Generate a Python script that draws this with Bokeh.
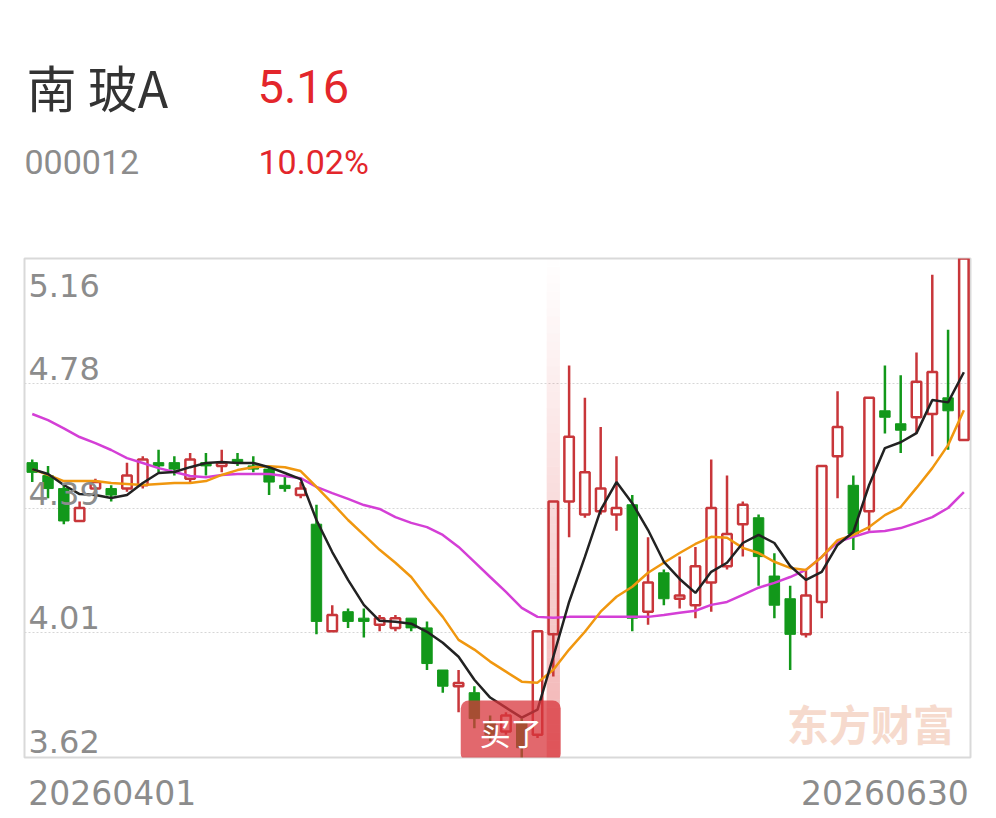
import numpy as np
from bokeh.plotting import figure
from bokeh.layouts import column
from bokeh.models import Range1d, FixedTicker, Label, LabelSet, Grid, ColumnDataSource
from bokeh.core.properties import value
from bokeh.embed import file_html
from bokeh.resources import INLINE

# ---------------- data ----------------
stock_name = "南 玻A"
stock_code = "000012"
last_price = "5.16"
pct_change = "10.02%"
dates = ["20260401", "20260630"]
y_tick_labels = ["5.16", "4.78", "4.39", "4.01", "3.62"]
y_min, y_max = 3.62, 5.16

opens = [4.53, 4.49, 4.45, 4.35, 4.45, 4.45, 4.45, 4.46, 4.53, 4.53,
         4.48, 4.53, 4.52, 4.54, 4.52, 4.51, 4.46, 4.43, 4.34, 4.01,
         4.07, 4.05, 4.03, 4.02, 4.05, 4.02, 3.89, 3.84, 3.82, 3.73,
         3.70, 3.73, 3.69, 4.00, 4.41, 4.37, 4.38, 4.37, 4.40, 4.07,
         4.19, 4.11, 4.09, 4.16, 4.21, 4.34, 4.36, 4.18, 4.11, 4.00,
         4.10, 4.55, 4.46, 4.38, 4.69, 4.65, 4.67, 4.68, 4.73, 4.60]
highs = [4.54, 4.52, 4.46, 4.41, 4.48, 4.46, 4.53, 4.55, 4.57, 4.55,
         4.56, 4.56, 4.57, 4.56, 4.55, 4.52, 4.49, 4.47, 4.40, 4.09,
         4.08, 4.08, 4.06, 4.06, 4.05, 4.04, 3.89, 3.89, 3.84, 3.75,
         3.76, 3.74, 4.01, 4.41, 4.83, 4.73, 4.64, 4.55, 4.43, 4.30,
         4.20, 4.24, 4.27, 4.54, 4.49, 4.41, 4.37, 4.25, 4.15, 4.20,
         4.52, 4.75, 4.49, 4.73, 4.83, 4.80, 4.87, 5.11, 4.94, 5.16]
lows = [4.47, 4.42, 4.34, 4.35, 4.42, 4.41, 4.44, 4.45, 4.50, 4.49,
        4.47, 4.49, 4.50, 4.52, 4.50, 4.43, 4.44, 4.42, 4.00, 4.01,
        4.02, 3.99, 4.01, 4.01, 4.01, 3.89, 3.82, 3.76, 3.71, 3.67,
        3.69, 3.62, 3.68, 3.87, 4.30, 4.36, 4.37, 4.32, 4.01, 4.03,
        4.09, 4.08, 4.05, 4.07, 4.20, 4.24, 4.15, 4.05, 3.89, 3.99,
        4.05, 4.42, 4.26, 4.32, 4.62, 4.56, 4.62, 4.55, 4.57, 4.60]
closes = [4.50, 4.45, 4.35, 4.39, 4.47, 4.43, 4.49, 4.54, 4.52, 4.51,
          4.54, 4.52, 4.53, 4.53, 4.51, 4.47, 4.45, 4.45, 4.04, 4.06,
          4.04, 4.04, 4.05, 4.05, 4.02, 3.91, 3.84, 3.85, 3.74, 3.69,
          3.75, 3.65, 4.01, 4.41, 4.61, 4.50, 4.45, 4.39, 4.05, 4.16,
          4.11, 4.12, 4.21, 4.39, 4.31, 4.40, 4.24, 4.09, 4.00, 4.12,
          4.52, 4.64, 4.31, 4.73, 4.67, 4.63, 4.78, 4.81, 4.69, 5.16]

ma5 = [4.510, 4.495, 4.461, 4.433, 4.430, 4.421, 4.430, 4.467, 4.498, 4.501,
       4.516, 4.529, 4.532, 4.529, 4.529, 4.516, 4.498, 4.479, 4.353, 4.254,
       4.168, 4.091, 4.042, 4.039, 4.033, 4.008, 3.974, 3.931, 3.860, 3.805,
       3.774, 3.743, 3.768, 3.931, 4.100, 4.239, 4.384, 4.470, 4.405, 4.322,
       4.224, 4.171, 4.128, 4.193, 4.221, 4.282, 4.307, 4.282, 4.211, 4.168,
       4.193, 4.276, 4.316, 4.461, 4.575, 4.593, 4.621, 4.723, 4.716, 4.809]
ma10 = [4.510, 4.492, 4.473, 4.473, 4.473, 4.467, 4.464, 4.461, 4.464, 4.467,
        4.467, 4.473, 4.492, 4.507, 4.516, 4.519, 4.516, 4.504, 4.455, 4.405,
        4.353, 4.307, 4.261, 4.221, 4.177, 4.113, 4.054, 3.983, 3.953, 3.916,
        3.885, 3.854, 3.851, 3.891, 3.953, 4.008, 4.070, 4.116, 4.147, 4.190,
        4.221, 4.251, 4.279, 4.301, 4.298, 4.267, 4.251, 4.224, 4.205, 4.199,
        4.239, 4.291, 4.307, 4.331, 4.368, 4.393, 4.452, 4.513, 4.584, 4.692]
ma20 = [4.680, 4.661, 4.636, 4.609, 4.590, 4.569, 4.544, 4.529, 4.513, 4.501,
        4.489, 4.485, 4.492, 4.495, 4.495, 4.495, 4.489, 4.482, 4.455, 4.436,
        4.418, 4.399, 4.387, 4.362, 4.344, 4.331, 4.307, 4.270, 4.224, 4.177,
        4.131, 4.082, 4.054, 4.051, 4.054, 4.054, 4.054, 4.054, 4.054, 4.054,
        4.060, 4.067, 4.073, 4.091, 4.100, 4.122, 4.144, 4.159, 4.177, 4.199,
        4.239, 4.285, 4.301, 4.316, 4.319, 4.328, 4.344, 4.362, 4.390, 4.439]

highlight_idx = 33
buy_idx = 31
buy_text = "买了"
watermark = "东方财富"

# ---------------- styling ----------------
RED = "#c8363a"
GREEN = "#12981a"
HDR_RED = "#e3262b"
GRAY = "#8c8c8c"
W = 990
FRAME_L, FRAME_R = 24, 20
FRAME_H = 499
HDR_H = 250
MB_BOTTOM = 5
FT_H = 54

n = len(closes)
idx = np.arange(n)
o = np.array(opens); h = np.array(highs); l = np.array(lows); c = np.array(closes)
up = c >= o
body_top = np.maximum(o, c)
body_bot = np.minimum(o, c)
pp = (y_max - y_min) / FRAME_H  # price per pixel

# ---------------- header (pixel coordinates) ----------------
hdr = figure(width=W, height=HDR_H, x_range=Range1d(FRAME_L, W - FRAME_R),
             y_range=Range1d(HDR_H, 0),
             x_axis_location=None, y_axis_location=None, toolbar_location=None,
             output_backend="svg", min_border_left=FRAME_L, min_border_right=FRAME_R,
             min_border_top=0, min_border_bottom=0)
hdr.outline_line_color = None
hdr.grid.visible = False
hdr.text(x=[26], y=[85], text=[stock_name], text_font=value("Noto Sans CJK SC"),
         text_font_size=value("50px"), text_color="#333333", text_baseline="middle")
hdr.text(x=[257], y=[86], text=[last_price], text_font=value("Roboto"),
         text_font_size=value("47px"), text_color=HDR_RED, text_baseline="middle")
hdr.text(x=[24], y=[161], text=[stock_code], text_font=value("Roboto"),
         text_font_size=value("34px"), text_color=GRAY, text_baseline="middle")
hdr.text(x=[258], y=[161], text=[pct_change], text_font=value("Roboto"),
         text_font_size=value("34px"), text_color=HDR_RED, text_baseline="middle")

# ---------------- main chart ----------------
x_start, x_end = -0.49, n - 1 + 0.42
p = figure(width=W, height=FRAME_H + 8 + MB_BOTTOM, x_range=Range1d(x_start, x_end),
           y_range=Range1d(y_min, y_max), x_axis_location=None, y_axis_location=None,
           toolbar_location=None, output_backend="svg",
           min_border_left=FRAME_L, min_border_right=FRAME_R,
           min_border_top=8, min_border_bottom=MB_BOTTOM)
p.grid.visible = False
p.outline_line_color = "#d9d9d9"
p.outline_line_width = 2
p.background_fill_color = "white"
p.border_fill_color = "white"
y_ticks = np.linspace(y_max, y_min, len(y_tick_labels))
p.add_layout(Grid(dimension=1, ticker=FixedTicker(ticks=list(y_ticks[1:-1])),
                  grid_line_color="#d6d6d6", grid_line_dash="2 2", grid_line_width=1))

# highlight band (gradient)
nb = 60
fr = np.arange(nb) / nb
band = ColumnDataSource(dict(
    left=np.full(nb, highlight_idx - 0.42), right=np.full(nb, highlight_idx + 0.42),
    bottom=y_min + (y_max - y_min) * fr, top=y_min + (y_max - y_min) * (fr + 1.0 / nb),
    alpha=0.42 * (1 - fr) ** 1.1))
p.quad(left="left", right="right", bottom="bottom", top="top", source=band,
       fill_color="#e04848", fill_alpha="alpha", line_color=None)

# wicks
colors = np.where(up, RED, GREEN)
p.segment(x0=idx, y0=body_top, x1=idx, y1=h, line_color=colors, line_width=2.5)
p.segment(x0=idx, y0=l, x1=idx, y1=body_bot, line_color=colors, line_width=2.5)
# bodies
gi = idx[~up]
p.vbar(x=gi, top=body_top[~up], bottom=body_bot[~up], width=0.66,
       fill_color=GREEN, line_color=GREEN, line_width=1)
ri = idx[up]
p.vbar(x=ri, top=body_top[up], bottom=body_bot[up], width=0.6,
       fill_color=None, line_color=RED, line_width=2.5)

# moving averages
p.line(idx, ma20, line_color="#d43fd6", line_width=2.5)
p.line(idx, ma10, line_color="#f0970f", line_width=2.5)
p.line(idx, ma5, line_color="#222222", line_width=2.5)

# y labels (centred above each grid line; the top one below the frame edge)
ly = [y_ticks[0] - 27 * pp] + list(y_ticks[1:-1] + 15 * pp) + [y_ticks[-1] + 16 * pp]
ysrc = ColumnDataSource(dict(x=[x_start] * len(y_tick_labels), y=ly, text=y_tick_labels))
p.add_layout(LabelSet(x="x", y="y", text="text", source=ysrc, x_offset=4,
                      text_font=value("DejaVu Sans"), text_font_size=value("32px"),
                      text_color=GRAY, text_baseline="middle", text_align="left"))

# watermark
p.add_layout(Label(x=53.1, y=y_min + 35 * pp, text=watermark, text_align="center",
                   text_baseline="middle", text_font="Noto Sans CJK SC",
                   text_font_size="42px", text_font_style="bold", text_color="#f6dacd",
                   level="underlay"))

# buy label
p.add_layout(Label(x=buy_idx, y=y_min + 26.5 * pp, x_offset=-11, text=buy_text,
                   text_align="center", text_baseline="middle",
                   text_font="Noto Sans CJK SC", text_font_size="31px", text_color="white",
                   background_fill_color="#d8363c", background_fill_alpha=0.75,
                   border_radius=8, padding=dict(left=19, right=19, top=8, bottom=8)))

# ---------------- footer ----------------
ft = figure(width=W, height=FT_H, x_range=p.x_range, y_range=Range1d(FT_H, 0),
            x_axis_location=None, y_axis_location=None, toolbar_location=None,
            output_backend="svg", min_border_left=FRAME_L, min_border_right=FRAME_R,
            min_border_top=0, min_border_bottom=0)
ft.outline_line_color = None
ft.grid.visible = False
ft.text(x=[0], y=[30], text=[dates[0]], x_offset=-4, text_align="left",
        text_baseline="middle", text_font=value("DejaVu Sans"),
        text_font_size=value("33px"), text_color=GRAY)
ft.text(x=[n - 1], y=[30], text=[dates[1]], x_offset=5, text_align="right",
        text_baseline="middle", text_font=value("DejaVu Sans"),
        text_font_size=value("33px"), text_color=GRAY)

layout = column(hdr, p, ft, spacing=0)
open("out.html", "w").write(file_html(layout, INLINE))
